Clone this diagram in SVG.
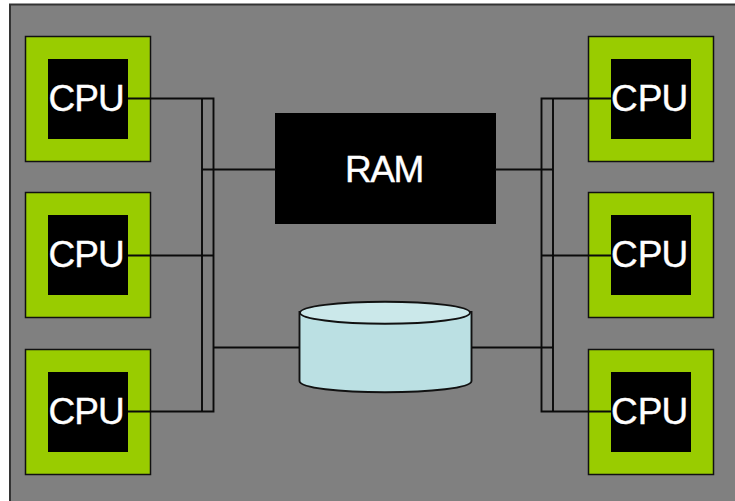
<svg xmlns="http://www.w3.org/2000/svg" width="735" height="501" viewBox="0 0 735 501">
<style>
.o{fill:#99cc00;stroke:#111;stroke-width:1.5}
.i{fill:#000}
.l{fill:none;stroke:#0a0a0a;stroke-width:1.9}
.t{font-family:"Liberation Sans",Arial,sans-serif;fill:#fff;stroke:#fff;stroke-width:.4;font-size:37px;letter-spacing:-1px}
.c{stroke:#111;stroke-width:1.9}
</style>
<rect width="735" height="501" fill="#fff"/>
<rect id="frame" x="10" y="4.500" width="730" height="500" fill="#808080" stroke="#333" stroke-width="2"/>
<g id="cpu-l1"><rect class="o" x="25.500" y="36.500" width="125" height="125"/><rect class="i" x="48" y="59" width="80" height="80"/><text class="t" x="48.500" y="111">CPU</text></g>
<g id="cpu-l2"><rect class="o" x="25.500" y="192.500" width="125" height="125"/><rect class="i" x="48" y="215" width="80" height="80"/><text class="t" x="48.500" y="267">CPU</text></g>
<g id="cpu-l3"><rect class="o" x="25.500" y="349.500" width="125" height="125"/><rect class="i" x="48" y="372" width="80" height="80"/><text class="t" x="48.500" y="424">CPU</text></g>
<g id="cpu-r1"><rect class="o" x="588.500" y="36.500" width="125" height="125"/><rect class="i" x="611" y="59" width="80" height="80"/><text class="t" x="611" y="111">C<tspan dx="1">PU</tspan></text></g>
<g id="cpu-r2"><rect class="o" x="588.500" y="192.500" width="125" height="125"/><rect class="i" x="611" y="215" width="80" height="80"/><text class="t" x="611" y="267">C<tspan dx="1">PU</tspan></text></g>
<g id="cpu-r3"><rect class="o" x="588.500" y="349.500" width="125" height="125"/><rect class="i" x="611" y="372" width="80" height="80"/><text class="t" x="611" y="424">C<tspan dx="1">PU</tspan></text></g>
<g id="ram"><rect x="275" y="113" width="221" height="111" fill="#000"/><text class="t" x="345" y="182" style="letter-spacing:-1.500px">RAM</text></g>
<g id="disk">
<path d="M299.500 312V381C299.500 388 340 392.300 385 392.300S471.500 388 471.500 381V312Z" fill="#bbe0e3" class="c"/>
<ellipse cx="385" cy="312.700" rx="85" ry="11" fill="#cbe8ea" class="c"/>
</g>
<g id="connectors">
<path class="l" d="M128 98.500H213.500V411.500H128M128 255.500H213.500M202 98.500V411.500M202 169.500H276M213.500 347.500H299"/>
<path class="l" d="M611 98.500H541.500V411.500H611M611 255.500H541.500M553 98.500V411.500M495 169.500H553M472 347.500H553"/>
</g>
</svg>
